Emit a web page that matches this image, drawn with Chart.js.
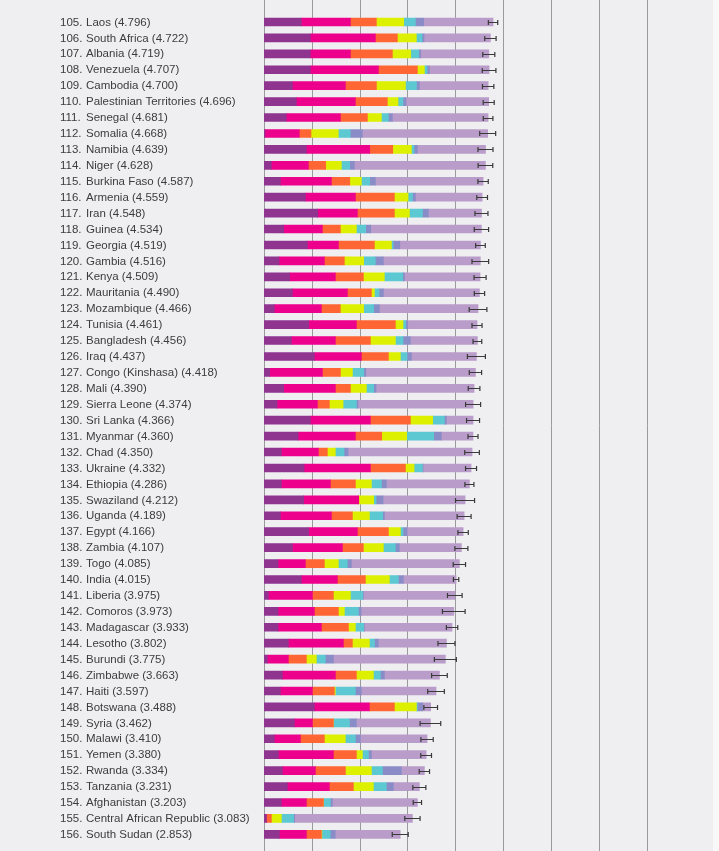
<!DOCTYPE html>
<html>
<head>
<meta charset="utf-8">
<script src="https://cdn.jsdelivr.net/npm/chart.js@4.4.0/dist/chart.umd.min.js"></script>
<style>
  html, body { margin: 0; padding: 0; background: #f8f8f9; }
  #wrap { width: 713px; height: 851px; background: #efeff2; }
</style>
</head>
<body>
<div id="wrap"><canvas id="chart" width="713" height="851"></canvas></div>
<script>
const ranks = ['105.', '106.', '107.', '108.', '109.', '110.', '111.', '112.', '113.', '114.', '115.', '116.', '117.',
  '118.', '119.', '120.', '121.', '122.', '123.', '124.', '125.', '126.', '127.', '128.', '129.', '130.', '131.', '132.',
  '133.', '134.', '135.', '136.', '137.', '138.', '139.', '140.', '141.', '142.', '143.', '144.', '145.', '146.', '147.',
  '148.', '149.', '150.', '151.', '152.', '153.', '154.', '155.', '156.'];

const countries = ['Laos', 'South Africa', 'Albania', 'Venezuela', 'Cambodia', 'Palestinian Territories', 'Senegal',
  'Somalia', 'Namibia', 'Niger', 'Burkina Faso', 'Armenia', 'Iran', 'Guinea', 'Georgia', 'Gambia', 'Kenya',
  'Mauritania', 'Mozambique', 'Tunisia', 'Bangladesh', 'Iraq', 'Congo (Kinshasa)', 'Mali', 'Sierra Leone',
  'Sri Lanka', 'Myanmar', 'Chad', 'Ukraine', 'Ethiopia', 'Swaziland', 'Uganda', 'Egypt', 'Zambia', 'Togo', 'India',
  'Liberia', 'Comoros', 'Madagascar', 'Lesotho', 'Burundi', 'Zimbabwe', 'Haiti', 'Botswana', 'Syria', 'Malawi',
  'Yemen', 'Rwanda', 'Tanzania', 'Afghanistan', 'Central African Republic', 'South Sudan'];

const scores = ['4.796', '4.722', '4.719', '4.707', '4.700', '4.696', '4.681', '4.668', '4.639', '4.628', '4.587',
  '4.559', '4.548', '4.534', '4.519', '4.516', '4.509', '4.490', '4.466', '4.461', '4.456', '4.437', '4.418', '4.390',
  '4.374', '4.366', '4.360', '4.350', '4.332', '4.286', '4.212', '4.189', '4.166', '4.107', '4.085', '4.015', '3.975',
  '3.973', '3.933', '3.802', '3.775', '3.663', '3.597', '3.488', '3.462', '3.410', '3.380', '3.334', '3.231', '3.203',
  '3.083', '2.853'];

const gdp = [0.781, 0.969, 0.969, 0.969, 0.593, 0.676, 0.467, 0.02, 0.886, 0.153, 0.342, 0.865, 1.123, 0.411, 0.907,
  0.314, 0.537, 0.593, 0.216, 0.934, 0.572, 1.053, 0.119, 0.411, 0.272, 0.969, 0.711, 0.363, 0.837, 0.363, 0.830,
  0.342, 0.934, 0.593, 0.293, 0.781, 0.091, 0.293, 0.293, 0.509, 0.070, 0.384, 0.342, 1.053, 0.635, 0.216, 0.300,
  0.384, 0.488, 0.363, 0.049, 0.321];

const social = [1.025, 1.360, 0.837, 1.423, 1.109, 1.234, 1.130, 0.718, 1.325, 0.774, 1.067, 1.046, 0.830, 0.809,
  0.649, 0.948, 0.955, 1.151, 0.983, 0.997, 0.921, 0.983, 1.102, 1.081, 0.844, 1.255, 1.199, 0.774, 1.388, 1.025,
  1.151, 1.067, 1.018, 1.046, 0.572, 0.753, 0.921, 0.760, 0.907, 1.151, 0.439, 1.109, 0.669, 1.151, 0.377, 0.544,
  1.151, 0.690, 0.879, 0.523, 0, 0.565];

const health = [0.544, 0.460, 0.879, 0.816, 0.649, 0.669, 0.565, 0.244, 0.481, 0.363, 0.384, 0.816, 0.774, 0.377,
  0.753, 0.418, 0.586, 0.502, 0.397, 0.816, 0.732, 0.565, 0.377, 0.314, 0.251, 0.837, 0.551, 0.188, 0.732, 0.523,
  0, 0.439, 0.649, 0.439, 0.397, 0.586, 0.439, 0.502, 0.565, 0.188, 0.377, 0.439, 0.460, 0.523, 0.439, 0.502,
  0.481, 0.628, 0.502, 0.356, 0.105, 0.314];

const freedom = [0.572, 0.397, 0.384, 0.146, 0.607, 0.223, 0.293, 0.572, 0.391, 0.328, 0.244, 0.286, 0.314, 0.335,
  0.356, 0.404, 0.439, 0.063, 0.488, 0.160, 0.523, 0.251, 0.251, 0.335, 0.286, 0.467, 0.523, 0.167, 0.181, 0.335,
  0.314, 0.356, 0.251, 0.418, 0.293, 0.502, 0.356, 0.126, 0.146, 0.356, 0.209, 0.356, 0.021, 0.460, 0, 0.439,
  0.126, 0.544, 0.418, 0, 0.209, 0.01];

const generosity = [0.244, 0.119, 0.167, 0.056, 0.230, 0.105, 0.146, 0.251, 0.056, 0.174, 0.174, 0.091, 0.272,
  0.195, 0.035, 0.244, 0.384, 0.098, 0.209, 0.056, 0.160, 0.139, 0.237, 0.153, 0.279, 0.244, 0.565, 0.181, 0.174,
  0.209, 0.049, 0.279, 0.056, 0.251, 0.188, 0.188, 0.258, 0.293, 0.174, 0.105, 0.188, 0.146, 0.418, 0.02, 0.335,
  0.209, 0.126, 0.230, 0.272, 0.146, 0.258, 0.174];

const corruption = [0.174, 0.042, 0.042, 0.049, 0.063, 0.063, 0.084, 0.251, 0.070, 0.098, 0.119, 0.063, 0.126,
  0.105, 0.139, 0.167, 0.035, 0.091, 0.119, 0.042, 0.153, 0.091, 0.042, 0.049, 0.035, 0.042, 0.160, 0.084, 0.014,
  0.105, 0.146, 0.035, 0.084, 0.084, 0.084, 0.105, 0.014, 0.056, 0.014, 0.084, 0.167, 0.084, 0.126, 0.112, 0.146,
  0.105, 0.063, 0.397, 0.146, 0.042, 0.02, 0.105];

const dystopia = [1.450, 1.388, 1.423, 1.248, 1.437, 1.729, 2.001, 2.622, 1.423, 2.741, 2.252, 1.395, 1.109, 2.315,
  1.688, 2.029, 1.583, 2.008, 2.064, 1.450, 1.402, 1.360, 2.294, 2.050, 2.406, 0.558, 0.662, 2.594, 1.004, 1.736,
  1.715, 1.667, 1.172, 1.297, 2.259, 1.102, 1.911, 1.939, 1.834, 1.423, 2.343, 1.151, 1.562, 0.167, 1.548, 1.395,
  1.144, 0.481, 0.544, 1.778, 2.463, 1.360];

// half width of the 95% interval whisker
const errors = [0.098, 0.119, 0.126, 0.143, 0.119, 0.115, 0.101, 0.167, 0.157, 0.153, 0.108, 0.112, 0.136, 0.150,
  0.101, 0.174, 0.126, 0.108, 0.185, 0.105, 0.091, 0.188, 0.129, 0.122, 0.157, 0.136, 0.105, 0.153, 0.115, 0.094,
  0.199, 0.146, 0.108, 0.136, 0.129, 0.056, 0.153, 0.237, 0.119, 0.178, 0.230, 0.164, 0.174, 0.143, 0.216, 0.129,
  0.112, 0.108, 0.136, 0.087, 0.160, 0.167];

const gridValues = [0, 1, 2, 3, 4, 5, 6, 7, 8];

const labels = countries.map((name, i) => name + ' (' + scores[i] + ')');
const parts = [gdp, social, health, freedom, generosity, corruption, dystopia];
const totals = countries.map((_, i) => parts.reduce((sum, arr) => sum + arr[i], 0));

const fullGrid = {
  id: 'fullGrid',
  beforeDatasetsDraw(chart) {
    const { ctx } = chart;
    const x = chart.scales.x;
    ctx.save();
    ctx.strokeStyle = '#9a9a9e';
    ctx.lineWidth = 1;
    gridValues.forEach(v => {
      const px = Math.round(x.getPixelForValue(v)) + 0.5;
      ctx.beginPath();
      ctx.moveTo(px, 0);
      ctx.lineTo(px, chart.height);
      ctx.stroke();
    });
    ctx.restore();
  },
};

const rowLabels = {
  id: 'rowLabels',
  afterDraw(chart) {
    const { ctx } = chart;
    const y = chart.scales.y;
    ctx.save();
    ctx.fillStyle = '#3c3c3e';
    ctx.font = '11.5px "Liberation Sans", Arial, sans-serif';
    ctx.textBaseline = 'middle';
    ctx.textAlign = 'left';
    labels.forEach((label, i) => {
      const py = y.getPixelForValue(i) + 0.5;
      ctx.fillText(ranks[i], 60, py);
      ctx.fillText(label, 86, py);
    });
    ctx.restore();
  },
};

const errorBars = {
  id: 'errorBars',
  afterDatasetsDraw(chart) {
    const { ctx } = chart;
    const x = chart.scales.x;
    const y = chart.scales.y;
    ctx.save();
    ctx.strokeStyle = '#3a3a3a';
    ctx.lineWidth = 1.2;
    totals.forEach((t, i) => {
      const py = Math.round(y.getPixelForValue(i)) + 0.5;
      const x0 = x.getPixelForValue(t - errors[i]);
      const x1 = x.getPixelForValue(t + errors[i]);
      ctx.beginPath();
      ctx.moveTo(x0, py);
      ctx.lineTo(x1, py);
      ctx.moveTo(x0, py - 2.5);
      ctx.lineTo(x0, py + 2.5);
      ctx.moveTo(x1, py - 2.5);
      ctx.lineTo(x1, py + 2.5);
      ctx.stroke();
    });
    ctx.restore();
  },
};

const colors = ['#8f3590', '#ec008c', '#ff6633', '#dcf000', '#5bc8d2', '#8a8cc8', '#b99cc9'];
const seriesNames = ['Explained by: GDP per capita', 'Explained by: social support',
  'Explained by: healthy life expectancy', 'Explained by: freedom to make life choices',
  'Explained by: generosity', 'Explained by: perceptions of corruption', 'Dystopia (1.88) + residual'];

new Chart(document.getElementById('chart'), {
  type: 'bar',
  data: {
    labels: labels,
    datasets: parts.map((arr, k) => ({
      label: seriesNames[k],
      data: arr,
      backgroundColor: colors[k],
      barThickness: 8,
      borderWidth: 0,
    })),
  },
  plugins: [fullGrid, errorBars, rowLabels],
  options: {
    indexAxis: 'y',
    responsive: false,
    animation: false,
    layout: { padding: { left: 264, top: 14, bottom: 8.7, right: 0 } },
    plugins: {
      legend: { display: false },
      tooltip: { enabled: false },
    },
    scales: {
      x: {
        stacked: true,
        min: 0,
        max: 9.39,
        display: false,
      },
      y: {
        stacked: true,
        display: false,
        offset: true,
      },
    },
  },
});
</script>
</body>
</html>
